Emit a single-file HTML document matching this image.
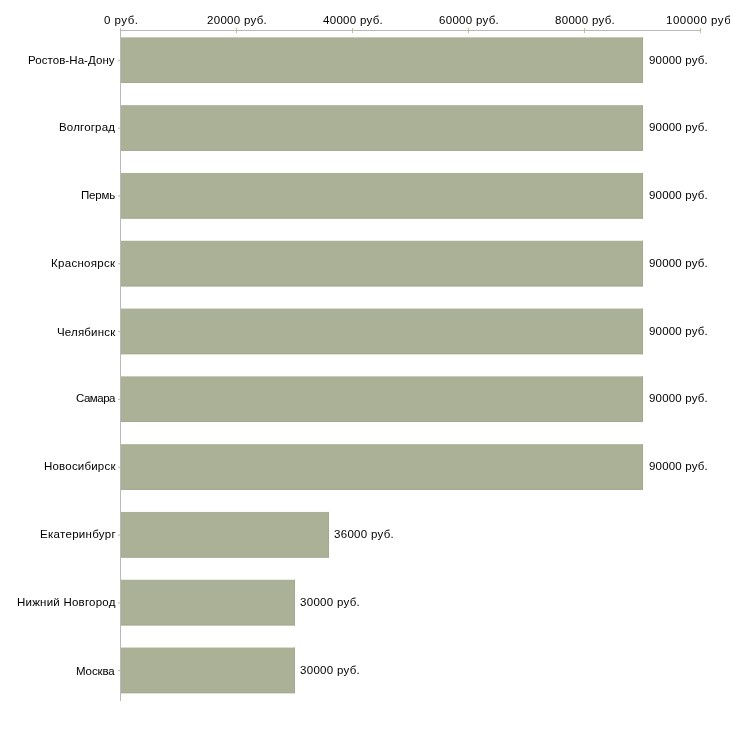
<!DOCTYPE html>
<html><head><meta charset="utf-8"><title>chart</title><style>
html,body{margin:0;padding:0;background:#fff}
body{width:730px;height:730px;position:relative;overflow:hidden;font-family:"Liberation Sans",sans-serif;font-size:11.5px;color:#000}
.t{position:absolute;white-space:nowrap;line-height:14px;will-change:transform}
</style></head><body>
<svg width="730" height="730" viewBox="0 0 730 730" style="position:absolute;left:0;top:0">
<rect x="121" y="37.35" width="522" height="45.65" fill="#aab197"/>
<rect x="121" y="82.00" width="522" height="1" fill="#a3aa8f"/>
<rect x="642" y="37.35" width="1" height="45.65" fill="#a3aa8f"/>
<rect x="118" y="59.90" width="2" height="1" fill="#bcbf94"/>
<rect x="121" y="105.15" width="522" height="45.65" fill="#aab197"/>
<rect x="121" y="149.80" width="522" height="1" fill="#a3aa8f"/>
<rect x="642" y="105.15" width="1" height="45.65" fill="#a3aa8f"/>
<rect x="118" y="127.70" width="2" height="1" fill="#bcbf94"/>
<rect x="121" y="172.95" width="522" height="45.65" fill="#aab197"/>
<rect x="121" y="217.60" width="522" height="1" fill="#a3aa8f"/>
<rect x="642" y="172.95" width="1" height="45.65" fill="#a3aa8f"/>
<rect x="118" y="195.50" width="2" height="1" fill="#bcbf94"/>
<rect x="121" y="240.75" width="522" height="45.65" fill="#aab197"/>
<rect x="121" y="285.40" width="522" height="1" fill="#a3aa8f"/>
<rect x="642" y="240.75" width="1" height="45.65" fill="#a3aa8f"/>
<rect x="118" y="263.30" width="2" height="1" fill="#bcbf94"/>
<rect x="121" y="308.55" width="522" height="45.65" fill="#aab197"/>
<rect x="121" y="353.20" width="522" height="1" fill="#a3aa8f"/>
<rect x="642" y="308.55" width="1" height="45.65" fill="#a3aa8f"/>
<rect x="118" y="331.10" width="2" height="1" fill="#bcbf94"/>
<rect x="121" y="376.35" width="522" height="45.65" fill="#aab197"/>
<rect x="121" y="421.00" width="522" height="1" fill="#a3aa8f"/>
<rect x="642" y="376.35" width="1" height="45.65" fill="#a3aa8f"/>
<rect x="118" y="398.90" width="2" height="1" fill="#bcbf94"/>
<rect x="121" y="444.15" width="522" height="45.65" fill="#aab197"/>
<rect x="121" y="488.80" width="522" height="1" fill="#a3aa8f"/>
<rect x="642" y="444.15" width="1" height="45.65" fill="#a3aa8f"/>
<rect x="118" y="466.70" width="2" height="1" fill="#bcbf94"/>
<rect x="121" y="511.95" width="208" height="45.65" fill="#aab197"/>
<rect x="121" y="556.60" width="208" height="1" fill="#a3aa8f"/>
<rect x="328" y="511.95" width="1" height="45.65" fill="#a3aa8f"/>
<rect x="118" y="534.50" width="2" height="1" fill="#bcbf94"/>
<rect x="121" y="579.75" width="174" height="45.65" fill="#aab197"/>
<rect x="121" y="624.40" width="174" height="1" fill="#a3aa8f"/>
<rect x="294" y="579.75" width="1" height="45.65" fill="#a3aa8f"/>
<rect x="118" y="602.30" width="2" height="1" fill="#bcbf94"/>
<rect x="121" y="647.55" width="174" height="45.65" fill="#aab197"/>
<rect x="121" y="692.20" width="174" height="1" fill="#a3aa8f"/>
<rect x="294" y="647.55" width="1" height="45.65" fill="#a3aa8f"/>
<rect x="118" y="670.10" width="2" height="1" fill="#bcbf94"/>
<rect x="120" y="30" width="581" height="1" fill="#b9b9bc"/>
<rect x="120" y="30" width="1" height="671" fill="#b9b9bc"/>
<rect x="120" y="28" width="1" height="2" fill="#bcbf94"/>
<rect x="236" y="28" width="1" height="5" fill="#bcbf94"/>
<rect x="352" y="28" width="1" height="5" fill="#bcbf94"/>
<rect x="468" y="28" width="1" height="5" fill="#bcbf94"/>
<rect x="584" y="28" width="1" height="5" fill="#bcbf94"/>
<rect x="700" y="28" width="1" height="5" fill="#bcbf94"/>
</svg>
<div class="t" style="left:28.00px;top:53px;letter-spacing:0.069px">Ростов-На-Дону</div>
<div class="t" style="left:59.00px;top:120px;letter-spacing:0.175px">Волгоград</div>
<div class="t" style="left:81.00px;top:188px;letter-spacing:-0.200px">Пермь</div>
<div class="t" style="left:51.00px;top:256px;letter-spacing:0.300px">Красноярск</div>
<div class="t" style="left:57.00px;top:325px;letter-spacing:0.175px">Челябинск</div>
<div class="t" style="left:76.00px;top:391px;letter-spacing:-0.500px">Самара</div>
<div class="t" style="left:44.00px;top:459px;letter-spacing:0.200px">Новосибирск</div>
<div class="t" style="left:40.00px;top:527px;letter-spacing:0.300px">Екатеринбург</div>
<div class="t" style="left:17.00px;top:595px;letter-spacing:0.229px">Нижний Новгород</div>
<div class="t" style="left:76.00px;top:664px;letter-spacing:-0.100px">Москва</div>
<div class="t" style="left:649.00px;top:53px;letter-spacing:0.189px">90000 руб.</div>
<div class="t" style="left:649.00px;top:120px;letter-spacing:0.189px">90000 руб.</div>
<div class="t" style="left:649.00px;top:188px;letter-spacing:0.189px">90000 руб.</div>
<div class="t" style="left:649.00px;top:256px;letter-spacing:0.189px">90000 руб.</div>
<div class="t" style="left:649.00px;top:324px;letter-spacing:0.189px">90000 руб.</div>
<div class="t" style="left:649.00px;top:391px;letter-spacing:0.189px">90000 руб.</div>
<div class="t" style="left:649.00px;top:459px;letter-spacing:0.189px">90000 руб.</div>
<div class="t" style="left:334.00px;top:527px;letter-spacing:0.300px">36000 руб.</div>
<div class="t" style="left:300.00px;top:595px;letter-spacing:0.300px">30000 руб.</div>
<div class="t" style="left:300.00px;top:663px;letter-spacing:0.300px">30000 руб.</div>
<div class="t" style="left:104.00px;top:13px;letter-spacing:0.500px">0 руб.</div>
<div class="t" style="left:207.00px;top:13px;letter-spacing:0.300px">20000 руб.</div>
<div class="t" style="left:323.00px;top:13px;letter-spacing:0.300px">40000 руб.</div>
<div class="t" style="left:439.00px;top:13px;letter-spacing:0.300px">60000 руб.</div>
<div class="t" style="left:555.00px;top:13px;letter-spacing:0.300px">80000 руб.</div>
<div class="t" style="left:666.00px;top:13px;letter-spacing:0.500px">100000 руб.</div>
</body></html>
